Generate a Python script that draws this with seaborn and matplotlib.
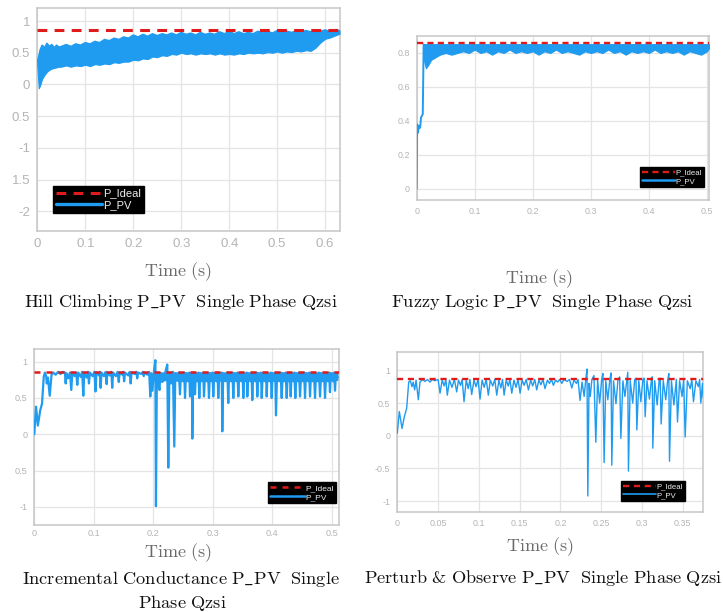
import matplotlib
matplotlib.use("Agg")
import matplotlib.pyplot as plt
from matplotlib.lines import Line2D
import seaborn as sns

sns.set_theme(style="white")
plt.rcParams["font.family"] = ["Liberation Sans", "DejaVu Sans"]
plt.rcParams["mathtext.fontset"] = "cm"

BLUE = "#1f9bf0"
RED = "#e01b1b"
TICK_GRAY = "#b4b4b4"
GRID = "#e4e4e4"
SPINE = "#c6c6c6"

P_IDEAL = 0.86

# ---- Hill Climbing: PV power band (upper / lower envelope) ----
hc_t = [0.0, 0.003, 0.006, 0.01, 0.015, 0.02, 0.025, 0.03, 0.035, 0.04, 0.045,
        0.05, 0.06, 0.07, 0.08, 0.09, 0.10, 0.11, 0.12, 0.13, 0.14, 0.15, 0.16,
        0.17, 0.18, 0.19, 0.20, 0.21, 0.22, 0.23, 0.24, 0.25, 0.26, 0.27, 0.28,
        0.29, 0.30, 0.31, 0.32, 0.33, 0.34, 0.35, 0.36, 0.37, 0.38, 0.39, 0.40,
        0.41, 0.42, 0.43, 0.44, 0.45, 0.46, 0.47, 0.48, 0.49, 0.50, 0.51, 0.52,
        0.53, 0.54, 0.55, 0.56, 0.57, 0.58, 0.59, 0.60, 0.61, 0.62, 0.63]
hc_upper = [0.36, 0.45, 0.55, 0.62, 0.58, 0.65, 0.60, 0.63, 0.58, 0.62, 0.59,
            0.60, 0.63, 0.60, 0.64, 0.62, 0.66, 0.64, 0.68, 0.66, 0.71, 0.69, 0.73,
            0.71, 0.75, 0.73, 0.78, 0.75, 0.79, 0.76, 0.80, 0.77, 0.80, 0.78, 0.81,
            0.78, 0.82, 0.79, 0.81, 0.78, 0.82, 0.79, 0.81, 0.79, 0.83, 0.80, 0.84,
            0.80, 0.83, 0.80, 0.82, 0.80, 0.84, 0.81, 0.84, 0.81, 0.85, 0.82, 0.84,
            0.82, 0.85, 0.83, 0.85, 0.83, 0.86, 0.84, 0.86, 0.84, 0.86, 0.85]
hc_lower = [0.30, -0.06, -0.01, 0.09, 0.15, 0.20, 0.23, 0.25, 0.26, 0.27, 0.28,
            0.28, 0.30, 0.28, 0.30, 0.29, 0.31, 0.29, 0.32, 0.31, 0.33, 0.32, 0.35,
            0.34, 0.36, 0.36, 0.39, 0.38, 0.41, 0.40, 0.44, 0.43, 0.46, 0.45, 0.48,
            0.47, 0.50, 0.48, 0.49, 0.47, 0.49, 0.48, 0.49, 0.47, 0.49, 0.47, 0.48,
            0.47, 0.49, 0.48, 0.50, 0.49, 0.50, 0.49, 0.51, 0.50, 0.52, 0.50, 0.52,
            0.51, 0.53, 0.52, 0.54, 0.53, 0.58, 0.66, 0.72, 0.74, 0.77, 0.80]

# ---- Fuzzy Logic: start-up transient and settled band ----
fz_t = [0.0, 0.0005, 0.001, 0.002, 0.004, 0.006, 0.0075, 0.009, 0.0105, 0.0115, 0.012]
fz_v = [0.0, 0.30, 0.38, 0.33, 0.37, 0.36, 0.42, 0.43, 0.44, 0.70, 0.85]
FZ_TOP = 0.852
fzb_t = [0.012, 0.013, 0.016, 0.018, 0.02, 0.025, 0.03, 0.035, 0.04, 0.05, 0.06,
         0.07, 0.08, 0.09, 0.10, 0.11, 0.12, 0.13, 0.14, 0.15, 0.16, 0.17, 0.18,
         0.19, 0.20, 0.21, 0.22, 0.23, 0.24, 0.25, 0.26, 0.27, 0.28, 0.29, 0.30,
         0.31, 0.32, 0.33, 0.34, 0.35, 0.36, 0.37, 0.38, 0.39, 0.40, 0.41, 0.42,
         0.43, 0.44, 0.45, 0.46, 0.47, 0.48, 0.49, 0.50, 0.504]
fzb_lower = [0.80, 0.75, 0.71, 0.72, 0.73, 0.76, 0.77, 0.78, 0.79, 0.80, 0.79,
             0.80, 0.81, 0.80, 0.82, 0.80, 0.81, 0.79, 0.81, 0.80, 0.82, 0.80, 0.81,
             0.80, 0.81, 0.79, 0.81, 0.80, 0.82, 0.80, 0.81, 0.80, 0.79, 0.81, 0.80,
             0.81, 0.80, 0.82, 0.80, 0.81, 0.79, 0.81, 0.80, 0.81, 0.80, 0.82, 0.80,
             0.81, 0.80, 0.81, 0.79, 0.81, 0.80, 0.79, 0.81, 0.83]

# ---- Incremental Conductance ----
ic_t = [0.000, 0.003, 0.006, 0.010, 0.013, 0.016, 0.018, 0.020, 0.021, 0.023, 0.026,
        0.029, 0.032, 0.036, 0.040, 0.044, 0.048, 0.0515, 0.0528, 0.0540, 0.0570,
        0.0600, 0.0622, 0.0640, 0.0680, 0.0705, 0.0723, 0.0740, 0.0780, 0.0805,
        0.0824, 0.0840, 0.0880, 0.0905, 0.0919, 0.0935, 0.0980, 0.1010, 0.1030,
        0.1045, 0.1090, 0.1100, 0.1115, 0.1130, 0.1170, 0.1200, 0.1216, 0.1230,
        0.1270, 0.1295, 0.1310, 0.1325, 0.1370, 0.1400, 0.1420, 0.1435, 0.1480,
        0.1495, 0.1510, 0.1525, 0.1580, 0.1605, 0.1620, 0.1635, 0.1690, 0.1715,
        0.1730, 0.1745, 0.1800, 0.1825, 0.1840, 0.1855, 0.1900, 0.1930, 0.1950,
        0.1965, 0.1985, 0.2010, 0.2035, 0.2045, 0.2060, 0.2080, 0.2105, 0.2120,
        0.2150, 0.2185, 0.2200, 0.2235, 0.2252, 0.2270, 0.2300, 0.2330, 0.2353,
        0.2370, 0.2410, 0.2430, 0.2449, 0.2465, 0.2500, 0.2520, 0.2533, 0.2550,
        0.2585, 0.2605, 0.2617, 0.2630, 0.2650, 0.2656, 0.2670, 0.2690, 0.2701,
        0.2715, 0.2745, 0.2760, 0.2773, 0.2790, 0.2820, 0.2840, 0.2852, 0.2870,
        0.2900, 0.2920, 0.2936, 0.2950, 0.2980, 0.2995, 0.3008, 0.3025, 0.3060,
        0.3080, 0.3092, 0.3110, 0.3140, 0.3150, 0.3160, 0.3175, 0.3210, 0.3245,
        0.3260, 0.3275, 0.3310, 0.3330, 0.3345, 0.3360, 0.3395, 0.3415, 0.3429,
        0.3445, 0.3480, 0.3500, 0.3513, 0.3530, 0.3560, 0.3570, 0.3580, 0.3595,
        0.3630, 0.3650, 0.3664, 0.3680, 0.3715, 0.3735, 0.3748, 0.3765, 0.3795,
        0.3810, 0.3822, 0.3840, 0.3875, 0.3895, 0.3906, 0.3920, 0.3955, 0.3975,
        0.3990, 0.4005, 0.4035, 0.4050, 0.4062, 0.4080, 0.4115, 0.4140, 0.4158,
        0.4175, 0.4205, 0.4225, 0.4242, 0.4260, 0.4285, 0.4295, 0.4309, 0.4325,
        0.4355, 0.4370, 0.4387, 0.4405, 0.4435, 0.4450, 0.4466, 0.4485, 0.4515,
        0.4535, 0.4550, 0.4565, 0.4600, 0.4620, 0.4634, 0.4650, 0.4680, 0.4700,
        0.4718, 0.4735, 0.4765, 0.4785, 0.4802, 0.4820, 0.4850, 0.4870, 0.4886,
        0.4905, 0.4935, 0.4955, 0.4969, 0.4985, 0.5020, 0.5040, 0.5054, 0.5070,
        0.5100]
ic_v = [0.00, 0.38, 0.12, 0.33, 0.42, 0.80, 0.85, 0.80, 0.70, 0.78, 0.53,
        0.82, 0.85, 0.82, 0.86, 0.83, 0.86, 0.85, 0.70, 0.84, 0.77,
        0.85, 0.61, 0.85, 0.80, 0.85, 0.68, 0.85, 0.79, 0.86,
        0.53, 0.85, 0.78, 0.86, 0.70, 0.85, 0.80, 0.86, 0.59,
        0.85, 0.81, 0.86, 0.64, 0.85, 0.80, 0.86, 0.69, 0.85,
        0.81, 0.86, 0.64, 0.85, 0.80, 0.86, 0.72, 0.85, 0.82,
        0.86, 0.73, 0.85, 0.81, 0.86, 0.70, 0.85, 0.83, 0.86,
        0.77, 0.85, 0.83, 0.86, 0.80, 0.85, 0.82, 0.86, 0.52,
        0.84, 0.60, 0.86, 1.02, -0.99, 0.82, 0.70, 0.61, 0.84,
        0.72, 0.75, 0.85, 0.96, -0.46, 0.82, 0.70, 0.86, -0.17,
        0.84, 0.74, 0.85, 0.55, 0.84, 0.73, 0.85, 0.50, 0.84,
        0.73, 0.85, 0.52, 0.84, 0.85, -0.06, 0.84, 0.85, 0.55,
        0.84, 0.73, 0.85, 0.50, 0.84, 0.73, 0.85, 0.52, 0.84,
        0.73, 0.85, 0.50, 0.84, 0.73, 0.85, 0.52, 0.84, 0.73,
        0.85, 0.50, 0.84, 0.76, 0.85, 0.04, 0.84, 0.73, 0.85,
        0.43, 0.84, 0.73, 0.85, 0.50, 0.84, 0.73, 0.85, 0.52,
        0.84, 0.73, 0.85, 0.50, 0.84, 0.73, 0.85, 0.52, 0.84,
        0.73, 0.85, 0.47, 0.84, 0.73, 0.85, 0.52, 0.84, 0.73,
        0.85, 0.50, 0.84, 0.73, 0.85, 0.52, 0.84, 0.73, 0.85,
        0.50, 0.84, 0.74, 0.85, 0.26, 0.84, 0.73, 0.85, 0.50,
        0.84, 0.73, 0.85, 0.50, 0.84, 0.73, 0.85, 0.52, 0.84,
        0.73, 0.85, 0.50, 0.84, 0.73, 0.85, 0.52, 0.84, 0.73,
        0.85, 0.50, 0.84, 0.73, 0.85, 0.52, 0.84, 0.73, 0.85,
        0.50, 0.84, 0.73, 0.85, 0.52, 0.84, 0.73, 0.85, 0.50,
        0.84, 0.73, 0.85, 0.58, 0.84, 0.73, 0.85, 0.60, 0.84,
        0.78]
# edges of the fast ripple riding on the IC trace after 0.2 s
IC_TOP = 0.86
icb_t = [0.206, 0.25, 0.30, 0.35, 0.40, 0.45, 0.51]
icb_lower = [0.74, 0.73, 0.73, 0.73, 0.73, 0.73, 0.74]

# ---- Perturb & Observe ----
po_t = [0.0000, 0.0025, 0.0058, 0.0086, 0.0115, 0.0140, 0.0160, 0.0180, 0.0195,
        0.0213, 0.0230, 0.0258, 0.0278, 0.0310, 0.0340, 0.0370, 0.0400, 0.0430,
        0.0460, 0.0500, 0.0524, 0.0550, 0.0575, 0.0595, 0.0613, 0.0640, 0.0670,
        0.0700, 0.0728, 0.0750, 0.0775, 0.0795, 0.0818, 0.0845, 0.0870, 0.0890,
        0.0912, 0.0940, 0.0965, 0.0990, 0.1014, 0.1040, 0.1065, 0.1090, 0.1116,
        0.1140, 0.1170, 0.1195, 0.1219, 0.1245, 0.1270, 0.1290, 0.1309, 0.1335,
        0.1360, 0.1380, 0.1403, 0.1430, 0.1455, 0.1480, 0.1505, 0.1530, 0.1555,
        0.1580, 0.1607, 0.1635, 0.1660, 0.1685, 0.1709, 0.1735, 0.1760, 0.1785,
        0.1811, 0.1840, 0.1865, 0.1890, 0.1913, 0.1940, 0.1965, 0.1990, 0.2016,
        0.2045, 0.2080, 0.2110, 0.2139, 0.2165, 0.2195, 0.2215, 0.2240, 0.2265,
        0.2290, 0.2310, 0.2325, 0.2335, 0.2350, 0.2365, 0.2385, 0.2410, 0.2433,
        0.2455, 0.2480, 0.2505, 0.2520, 0.2535, 0.2555, 0.2580, 0.2605, 0.2620,
        0.2629, 0.2650, 0.2680, 0.2705, 0.2725, 0.2740, 0.2765, 0.2790, 0.2815,
        0.2825, 0.2833, 0.2855, 0.2885, 0.2910, 0.2925, 0.2936, 0.2960, 0.2985,
        0.3010, 0.3025, 0.3038, 0.3060, 0.3090, 0.3115, 0.3125, 0.3132, 0.3155,
        0.3185, 0.3210, 0.3222, 0.3234, 0.3260, 0.3290, 0.3315, 0.3328, 0.3336,
        0.3360, 0.3390, 0.3420, 0.3434, 0.3460, 0.3490, 0.3510, 0.3528, 0.3555,
        0.3590, 0.3610, 0.3630, 0.3660, 0.3690, 0.3705, 0.3720, 0.3740, 0.3750]
po_v = [0.04, 0.37, 0.11, 0.29, 0.42, 0.82, 0.84, 0.75, 0.82,
        0.70, 0.85, 0.55, 0.82, 0.86, 0.83, 0.86, 0.82, 0.86,
        0.84, 0.86, 0.65, 0.85, 0.76, 0.86, 0.62, 0.85, 0.74,
        0.86, 0.67, 0.85, 0.77, 0.86, 0.52, 0.85, 0.72, 0.86,
        0.63, 0.85, 0.75, 0.86, 0.56, 0.85, 0.74, 0.86, 0.62,
        0.85, 0.76, 0.86, 0.62, 0.85, 0.73, 0.86, 0.62, 0.85,
        0.76, 0.86, 0.65, 0.85, 0.74, 0.86, 0.65, 0.85, 0.77,
        0.86, 0.70, 0.85, 0.76, 0.86, 0.70, 0.85, 0.78, 0.86,
        0.72, 0.85, 0.80, 0.86, 0.77, 0.85, 0.82, 0.86, 0.80,
        0.86, 0.83, 0.86, 0.73, 0.85, 0.80, 0.86, 0.54, 0.82,
        0.60, 0.86, 1.02, -0.92, 0.80, 0.60, 0.86, 0.92, -0.10,
        0.85, 0.50, 0.86, 0.95, -0.41, 0.84, 0.55, 0.86, 0.96,
        -0.45, 0.84, 0.49, 0.86, 0.90, -0.04, 0.84, 0.60, 0.86,
        0.97, -0.54, 0.84, 0.50, 0.86, 0.88, 0.09, 0.84, 0.52,
        0.86, 0.88, 0.29, 0.84, 0.56, 0.86, 0.90, -0.19, 0.84,
        0.47, 0.86, 0.88, 0.18, 0.84, 0.55, 0.86, 0.95, -0.39,
        0.84, 0.47, 0.86, 0.21, 0.84, 0.60, 0.86, -0.02, 0.84,
        0.72, 0.86, 0.52, 0.84, 0.75, 0.86, 0.50, 0.80, 0.58]

# ---- panel geometry, limits, ticks ----
panels = [
    dict(rect=[0.0516, 0.6225, 0.4187, 0.3639], xlim=(0, 0.631), ylim=(-2.31, 1.2),
         xticks=[0, 0.1, 0.2, 0.3, 0.4, 0.5, 0.6],
         xlabels=["0", "0.1", "0.2", "0.3", "0.4", "0.5", "0.6"],
         yticks=[1, 0.5, 0, -0.5, -1, -1.5, -2],
         ylabels=["1", "0.5", "0", "0.5", "-1", "1.5", "-2"],
         tick_fs=9.5, pad=5, leg=(0.052, 0.081), leg_fs=8.0, dash=(3.2, 2.4), red_lw=2.2,
         time_xy=(178, 272), caption=["Hill\\ Climbing\\ P\\_PV\\ \\ Single\\ Phase\\ Qzsi"],
         cap_xy=[(181, 302)]),
    dict(rect=[0.5763, 0.6732, 0.4047, 0.2680], xlim=(0, 0.504), ylim=(-0.065, 0.9),
         xticks=[0, 0.1, 0.2, 0.3, 0.4, 0.5],
         xlabels=["0", "0.1", "0.2", "0.3", "0.4", "0.5"],
         yticks=[0, 0.2, 0.4, 0.6, 0.8],
         ylabels=["0", "0.2", "0.4", "0.6", "0.8"],
         tick_fs=6.4, pad=5, leg=(0.763, 0.079), leg_fs=5.6, dash=(2.6, 1.8), red_lw=1.7,
         time_xy=(539, 279), caption=["Fuzzy\\ Logic\\ P\\_PV\\ \\ Single\\ Phase\\ Qzsi"],
         cap_xy=[(542, 302)]),
    dict(rect=[0.0474, 0.1422, 0.4214, 0.2876], xlim=(0, 0.512), ylim=(-1.25, 1.175),
         xticks=[0, 0.1, 0.2, 0.3, 0.4, 0.5],
         xlabels=["0", "0.1", "0.2", "0.3", "0.4", "0.5"],
         yticks=[1, 0.5, 0, -0.5, -1],
         ylabels=["1", "0.5", "0", "0.5", "-1"],
         tick_fs=6.6, pad=3, leg=(0.767, 0.125), leg_fs=6.0, dash=(2.4, 2.4), red_lw=1.8,
         time_xy=(178, 553),
         caption=["Incremental\\ Conductance\\ P\\_PV\\ \\ Single", "Phase\\ Qzsi"],
         cap_xy=[(181, 579), (182, 603)]),
    dict(rect=[0.5495, 0.1629, 0.4232, 0.2624], xlim=(0, 0.375), ylim=(-1.17, 1.284),
         xticks=[0, 0.05, 0.1, 0.15, 0.2, 0.25, 0.3, 0.35],
         xlabels=["0", "0.05", "0.1", "0.15", "0.2", "0.25", "0.3", "0.35"],
         yticks=[1, 0.5, 0, -0.5, -1],
         ylabels=["1", "0.5", "0", "-0.5", "-1"],
         tick_fs=6.4, pad=5, leg=(0.731, 0.070), leg_fs=5.6, dash=(2.6, 2.0), red_lw=1.7,
         time_xy=(540, 547), caption=["Perturb\\ &\\ Observe\\ P\\_PV\\ \\ Single\\ Phase\\ Qzsi"],
         cap_xy=[(543, 578)]),
]

W, H = 723, 612
fig = plt.figure(figsize=(W / 100, H / 100), dpi=100)
fig.patch.set_facecolor("white")


def style_axes(ax, p):
    ax.set_xlim(*p["xlim"])
    ax.set_ylim(*p["ylim"])
    ax.set_xticks(p["xticks"])
    ax.set_xticklabels(p["xlabels"])
    ax.set_yticks(p["yticks"])
    ax.set_yticklabels(p["ylabels"])
    ax.tick_params(length=0, labelsize=p["tick_fs"], labelcolor=TICK_GRAY, pad=5)
    ax.tick_params(axis="x", pad=p["pad"])
    ax.grid(True, color=GRID, lw=0.9)
    ax.set_axisbelow(True)
    for s in ax.spines.values():
        s.set_color(SPINE)
        s.set_linewidth(1.1)
    ax.set_xlabel("")
    ax.set_ylabel("")


def ideal_line(ax, p):
    sns.lineplot(x=[p["xlim"][0], p["xlim"][1]], y=[P_IDEAL, P_IDEAL], ax=ax,
                 color=RED, lw=p["red_lw"], linestyle=(0, p["dash"]), zorder=5)


def add_legend(ax, p, pv_lw):
    handles = [Line2D([], [], color=RED, lw=p["red_lw"], linestyle=(0, p["dash"])),
               Line2D([], [], color=BLUE, lw=pv_lw)]
    leg = ax.legend(handles, ["P_Ideal", "P_PV"], loc="lower left",
                    bbox_to_anchor=p["leg"], fontsize=p["leg_fs"], frameon=True,
                    facecolor="black", edgecolor="black", framealpha=1.0,
                    fancybox=False, labelcolor="#eeeeee", handlelength=4.2,
                    handletextpad=0.1, borderpad=0.25, labelspacing=0.15,
                    borderaxespad=0)
    leg.set_zorder(10)


axes = []
for p in panels:
    ax = fig.add_axes(p["rect"])
    ax.set_facecolor("white")
    axes.append(ax)

# Hill Climbing
ax, p = axes[0], panels[0]
ax.fill_between(hc_t, hc_lower, hc_upper, color=BLUE, lw=0.8, zorder=3)
sns.lineplot(x=hc_t, y=hc_upper, ax=ax, color=BLUE, lw=1.0, zorder=3)
ideal_line(ax, p)
style_axes(ax, p)
add_legend(ax, p, 2.4)

# Fuzzy Logic
ax, p = axes[1], panels[1]
sns.lineplot(x=fz_t, y=fz_v, ax=ax, color=BLUE, lw=1.4, sort=False, estimator=None, zorder=3)
ax.fill_between(fzb_t, fzb_lower, FZ_TOP, color=BLUE, lw=0.8, zorder=3)
ideal_line(ax, p)
style_axes(ax, p)
add_legend(ax, p, 1.8)

# Incremental Conductance
ax, p = axes[2], panels[2]
ax.fill_between(icb_t, icb_lower, IC_TOP, color=BLUE, lw=0, zorder=3)
sns.lineplot(x=ic_t, y=ic_v, ax=ax, color=BLUE, lw=1.6, sort=False, estimator=None, zorder=3)
ideal_line(ax, p)
style_axes(ax, p)
add_legend(ax, p, 1.8)

# Perturb & Observe
ax, p = axes[3], panels[3]
sns.lineplot(x=po_t, y=po_v, ax=ax, color=BLUE, lw=1.0, sort=False, estimator=None, zorder=3)
ideal_line(ax, p)
style_axes(ax, p)
add_legend(ax, p, 1.2)

# axis titles and captions
for p in panels:
    tx, ty = p["time_xy"]
    fig.text(tx / W, 1 - ty / H, r"$\mathrm{Time\ (s)}$", ha="center", va="center",
             fontsize=13, color="#6a6a6a")
    for cap, (cx, cy) in zip(p["caption"], p["cap_xy"]):
        fig.text(cx / W, 1 - cy / H, "$\\mathrm{" + cap + "}$", ha="center",
                 va="center", fontsize=13.2, color="#111111")

fig.savefig("out.png", dpi=100, facecolor="white")
